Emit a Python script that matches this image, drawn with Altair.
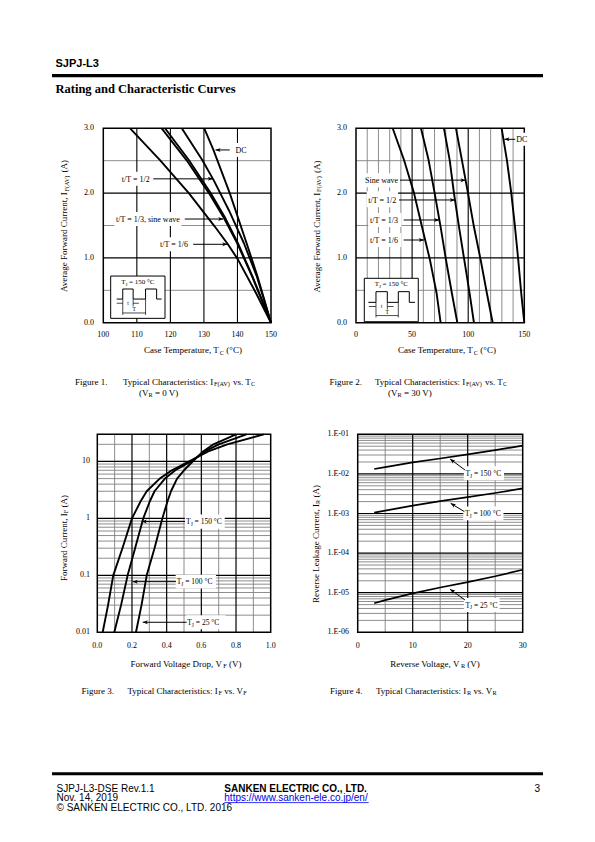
import altair as alt
import pandas as pd

SERIF = "Liberation Serif"
SANS = "Liberation Sans"
M = 8  # page margin of the html page

# ---------------- Figure 1 : I_F(AV) vs T_C  (V_R = 0 V) ----------------
f1_tc_16 = [108.0, 116.9, 125.5, 133.3, 137.3, 140.2, 145.6, 150.0]
f1_if_16 = [3.00, 2.51, 2.00, 1.48, 1.20, 0.97, 0.45, 0.00]
f1_tc_13 = [117.4, 124.8, 131.5, 135.7, 139.9, 144.4, 150.0]
f1_if_13 = [3.00, 2.51, 2.00, 1.64, 1.23, 0.71, 0.00]
f1_tc_sine = [118.4, 125.5, 132.0, 136.1, 140.1, 144.5, 150.0]
f1_if_sine = [3.00, 2.51, 2.00, 1.64, 1.23, 0.71, 0.00]
f1_tc_12 = [123.4, 129.5, 132.9, 137.4, 141.9, 145.8, 150.0]
f1_if_12 = [3.00, 2.51, 2.20, 1.74, 1.23, 0.71, 0.00]
f1_tc_dc = [130.1, 132.8, 137.7, 142.7, 146.0, 150.0]
f1_if_dc = [3.00, 2.67, 2.00, 1.23, 0.71, 0.00]

# ---------------- Figure 2 : I_F(AV) vs T_C  (V_R = 30 V) ----------------
f2_if = [3.00, 2.51, 2.00, 1.48, 0.97, 0.45, 0.00]
f2_tc_16 = [32.7, 42.8, 51.7, 58.8, 65.9, 71.9, 75.4]
f2_tc_13 = [57.9, 64.7, 70.1, 75.4, 80.2, 85.5, 90.3]
f2_tc_12 = [78.4, 83.5, 87.3, 91.8, 96.5, 101.3, 105.1]
f2_tc_sine = [89.1, 94.4, 99.8, 105.1, 111.1, 116.7, 121.8]
f2_tc_dc = [129.8, 134.5, 138.4, 141.7, 144.6, 147.3, 150.0]

# ---------------- Figure 3 : I_F vs V_F ----------------
f3_if = [0.01, 0.03, 0.1, 0.3, 1, 2, 3, 5, 7, 10, 15, 20, 30]
f3_vf_150 = [0.031, 0.062, 0.092, 0.145, 0.200, 0.250, 0.285, 0.360, 0.430, 0.530, 0.640, 0.750, 0.960]
f3_vf_100 = [0.098, 0.137, 0.175, 0.218, 0.265, 0.303, 0.330, 0.390, 0.450, 0.540, 0.620, 0.700, 0.860]
f3_vf_25 = [0.223, 0.255, 0.285, 0.330, 0.375, 0.405, 0.425, 0.460, 0.500, 0.550, 0.610, 0.670, 0.800]

# ---------------- Figure 4 : I_R vs V_R ----------------
f4_vr = [3, 5, 10, 15, 20, 25, 30]
f4_ir_150 = [0.0133, 0.0148, 0.0195, 0.0245, 0.031, 0.040, 0.0515]
f4_ir_100 = [0.00105, 0.00118, 0.00158, 0.00205, 0.0026, 0.0033, 0.0043]
f4_ir_25 = [5.4e-6, 6.5e-6, 9.6e-6, 1.35e-5, 1.85e-5, 2.6e-5, 3.8e-5]

# ---------------- tick labels ----------------
f1_xticks = [100, 110, 120, 130, 140, 150]
f1_xlabels = ["100", "110", "120", "130", "140", "150"]
f12_yticks = [0, 1, 2, 3]
f12_ylabels = ["0.0", "1.0", "2.0", "3.0"]
f2_xticks = [0, 50, 100, 150]
f2_xlabels = ["0", "50", "100", "150"]
f3_xticks = [0, 0.2, 0.4, 0.6, 0.8, 1.0]
f3_xlabels = ["0.0", "0.2", "0.4", "0.6", "0.8", "1.0"]
f3_yticks = [0.01, 0.1, 1, 10]
f3_ylabels = ["0.01", "0.1", "1", "10"]
f4_xticks = [0, 10, 20, 30]
f4_xlabels = ["0", "10", "20", "30"]
f4_yticks = [1e-6, 1e-5, 1e-4, 1e-3, 1e-2, 1e-1]
f4_ylabels = ["1.E-06", "1.E-05", "1.E-04", "1.E-03", "1.E-02", "1.E-01"]

# ---------------- grid lines ----------------
f1_gx_major = [110, 120, 130, 140]
f12_gy_major = [1, 2]
f12_gy_minor = [0.5, 1.5, 2.5]
f2_gx_major = [50, 100]
f2_gx_minor = [10, 20, 30, 40, 60, 70, 80, 90, 110, 120, 130, 140]
f3_gx_major = [0.2, 0.4, 0.6, 0.8]
f3_gx_minor = [0.1, 0.3, 0.5, 0.7, 0.9]
f3_gy_major = [0.1, 1, 10]
f3_gy_minor = [k * d for d in (0.01, 0.1, 1) for k in range(2, 10)] + [20]
f4_gx_major = [10, 20]
f4_gx_minor = [5, 15, 25]
f4_gy_major = [1e-5, 1e-4, 1e-3, 1e-2]
f4_gy_minor = [k * d for d in (1e-6, 1e-5, 1e-4, 1e-3, 1e-2) for k in range(2, 10)]

# ---------------- Times metrics (per 1000 em) for composed texts ----------------
TW = {' ': 250, '!': 333, '(': 333, ')': 333, ',': 250, '-': 333, '.': 250, '/': 278,
      ':': 278, '=': 564, '°': 400}
for c in "0123456789":
    TW[c] = 500
TW.update(dict(zip("ABCDEFGHIJKLMNOPQRSTUVWXYZ",
                   [722, 667, 667, 722, 611, 556, 722, 722, 333, 389, 722, 611, 889, 722, 722,
                    556, 722, 667, 556, 611, 722, 722, 944, 722, 722, 611])))
TW.update(dict(zip("abcdefghijklmnopqrstuvwxyz",
                   [444, 500, 444, 500, 444, 333, 500, 500, 278, 278, 500, 278, 778, 500, 500,
                    500, 500, 333, 389, 278, 500, 500, 722, 500, 500, 444])))


def tw(s, size):
    return sum(TW.get(c, 500) for c in s) * size / 1000.0


def compose(base, enc, parts, size, align="left", font=SERIF, weight="normal",
            color="black", angle=0, dy0=0.0, sub=0.7):
    out = []
    if len(parts) == 1 and not parts[0][1]:
        kw = dict(text=parts[0][0], align=align, baseline="alphabetic", font=font,
                  fontSize=size, fontWeight=weight, color=color, dy=round(dy0, 2))
        if angle:
            kw["angle"] = angle
        return [base.mark_text(**kw).encode(**enc)]
    sizes = [size * sub if s else size for _, s in parts]
    widths = [tw(t, fs) for (t, _), fs in zip(parts, sizes)]
    total = sum(widths)
    off = {"left": 0.0, "center": -total / 2.0, "right": -total}[align]
    for (t, s), fs, w in zip(parts, sizes, widths):
        lead = len(t) - len(t.lstrip(" "))
        kw = dict(text=t.strip(" "), align="left", baseline="alphabetic", font=font,
                  fontSize=round(fs, 2), fontWeight=weight, color=color,
                  dx=round(off + tw(" " * lead, fs), 2),
                  dy=round(dy0 + (size * 0.22 if s else 0.0), 2))
        if angle:
            kw["angle"] = angle
        out.append(base.mark_text(**kw).encode(**enc))
        off += w
    return out


ONE = pd.DataFrame({"a": [0]})


def ptext(px, py, parts, size, align="left", **kw):
    enc = {"x": alt.value(round(px - M, 2)), "y": alt.value(round(py - M, 2))}
    return compose(alt.Chart(ONE), enc, parts, size, align=align, **kw)


def prule(x1, x2, y, width, color="black"):
    return alt.Chart(ONE).mark_rule(color=color, strokeWidth=width).encode(
        x=alt.value(x1 - M), x2=alt.value(x2 - M), y=alt.value(y - M))


# ---------------- panels (scale ranges in page pixels minus margin) ----------------
def mkscale(dom, rng, log=False):
    if log:
        return alt.Scale(type="log", domain=dom, range=rng, nice=False)
    return alt.Scale(type="linear", domain=dom, range=rng, nice=False, zero=False)


P1 = dict(xdom=[100, 150], ydom=[0, 3], xr=[95.3, 263.0], yr=[314.7, 120.3], ylog=False)
P2 = dict(xdom=[0, 150], ydom=[0, 3], xr=[348.0, 516.3], yr=[314.7, 120.3], ylog=False)
P3 = dict(xdom=[0, 1], ydom=[0.01, 30], xr=[89.3, 262.7], yr=[624.3, 426.3], ylog=True)
P4 = dict(xdom=[0, 30], ydom=[1e-6, 1e-1], xr=[349.7, 514.7], yr=[624.3, 426.3], ylog=True)
for P in (P1, P2, P3, P4):
    P["xs"] = mkscale(P["xdom"], P["xr"])
    P["ys"] = mkscale(P["ydom"], P["yr"], P["ylog"])


def X(P, f="x"):
    return alt.X(f + ":Q", scale=P["xs"], axis=None)


def Y(P, f="y"):
    return alt.Y(f + ":Q", scale=P["ys"], axis=None)


def grid(P, vx, vy, color, width):
    out = []
    if vx:
        df = pd.DataFrame({"x": vx, "y": [P["ydom"][0]] * len(vx), "y2": [P["ydom"][1]] * len(vx)})
        out.append(alt.Chart(df).mark_rule(color=color, strokeWidth=width).encode(
            x=X(P), y=Y(P), y2="y2:Q"))
    if vy:
        df = pd.DataFrame({"y": vy, "x": [P["xdom"][0]] * len(vy), "x2": [P["xdom"][1]] * len(vy)})
        out.append(alt.Chart(df).mark_rule(color=color, strokeWidth=width).encode(
            y=Y(P), x=X(P), x2="x2:Q"))
    return out


def frame(P):
    df = pd.DataFrame({"x": [P["xdom"][0]], "x2": [P["xdom"][1]],
                       "y": [P["ydom"][0]], "y2": [P["ydom"][1]]})
    return alt.Chart(df).mark_rect(fillOpacity=0, stroke="black", strokeWidth=1.5).encode(
        x=X(P), x2="x2:Q", y=Y(P), y2="y2:Q")


def curves(P, series, width=1.9):
    rows = []
    for name, xs, ys in series:
        for i, (a, b) in enumerate(zip(xs, ys)):
            rows.append({"s": name, "i": i, "x": a, "y": b})
    return alt.Chart(pd.DataFrame(rows)).mark_line(
        color="black", strokeWidth=width, strokeJoin="round").encode(
        x=X(P), y=Y(P), detail="s:N", order="i:Q")


def boxes(P, x1, x2, y1, y2):
    df = pd.DataFrame({"x": x1, "x2": x2, "y": y1, "y2": y2})
    return alt.Chart(df).mark_rect(color="white").encode(x=X(P), x2="x2:Q", y=Y(P), y2="y2:Q")


ARROW = "M0,0L-2.2,-0.85L-1.6,0L-2.2,0.85Z"


def arrows(P, tx, ty, hx, hy, ang, size=22, width=1.0):
    df = pd.DataFrame({"x": tx, "y": ty, "x2": hx, "y2": hy, "a": ang})
    shaft = alt.Chart(df).mark_rule(color="black", strokeWidth=width).encode(
        x=X(P), y=Y(P), x2="x2:Q", y2="y2:Q")
    head = alt.Chart(df).mark_point(shape=ARROW, filled=True, color="black", size=size,
                                    opacity=1).encode(
        x=X(P, "x2"), y=Y(P, "y2"), angle=alt.Angle("a:Q", scale=None))
    return [shaft, head]


def dlabel(P, x, y, parts, size=8, align="left"):
    base = alt.Chart(pd.DataFrame({"x": [x], "y": [y]}))
    return compose(base, {"x": X(P), "y": Y(P)}, parts, size, align=align, dy0=size * 0.35)


def segs(P, x1, y1, x2, y2, width=0.8):
    df = pd.DataFrame({"x": x1, "y": y1, "x2": x2, "y2": y2})
    return alt.Chart(df).mark_rule(color="black", strokeWidth=width).encode(
        x=X(P), y=Y(P), x2="x2:Q", y2="y2:Q")


def xticks(P, vals, texts, py):
    df = pd.DataFrame({"x": vals, "t": texts})
    return alt.Chart(df).mark_text(font=SERIF, fontSize=8, align="center", baseline="alphabetic",
                                   color="black").encode(x=X(P), y=alt.value(py - M), text="t:N")


def yticks(P, vals, texts, px):
    df = pd.DataFrame({"y": vals, "t": texts})
    return alt.Chart(df).mark_text(font=SERIF, fontSize=8, align="right", baseline="middle",
                                   color="black").encode(y=Y(P), x=alt.value(px - M), text="t:N")


def inset(P, bx, by, tpos, wx, wy, d, tl, Tl):
    out = []
    df = pd.DataFrame({"x": [bx[0]], "x2": [bx[1]], "y": [by[0]], "y2": [by[1]]})
    out.append(alt.Chart(df).mark_rect(fill="white", stroke="black", strokeWidth=1).encode(
        x=X(P), x2="x2:Q", y=Y(P), y2="y2:Q"))
    out += dlabel(P, tpos[0], tpos[1], [("T", 0), ("J", 1), (" = 150 °C", 0)], size=7, align="center")
    wdf = pd.DataFrame({"x": wx, "y": wy, "i": list(range(len(wx)))})
    out.append(alt.Chart(wdf).mark_line(color="black", strokeWidth=1).encode(
        x=X(P), y=Y(P), order="i:Q"))
    out.append(segs(P, d[0], d[1], d[2], d[3], width=0.7))
    out += dlabel(P, tl[0], tl[1], [("t", 0)], size=5.5, align="center")
    out += dlabel(P, Tl[0], Tl[1], [("T", 0)], size=5.5, align="center")
    return out


GREY = "#808080"
layers = []

# ---------------- Figure 1 ----------------
P = P1
layers += grid(P, [], f12_gy_minor, GREY, 0.9)
layers += grid(P, f1_gx_major, f12_gy_major, "black", 1.1)
layers.append(frame(P))
layers.append(boxes(P, [104.8, 103.3, 116.2, 139.0], [114.6, 123.3, 126.0, 143.4],
                    [2.112, 1.492, 1.102, 2.558], [2.328, 1.708, 1.318, 2.774]))
layers.append(curves(P, [("1/6", f1_tc_16, f1_if_16), ("1/3", f1_tc_13, f1_if_13),
                         ("sine", f1_tc_sine, f1_if_sine), ("1/2", f1_tc_12, f1_if_12),
                         ("DC", f1_tc_dc, f1_if_dc)]))
layers += arrows(P, [137.7, 114.9, 124.3, 126.8], [2.666, 2.22, 1.60, 1.21],
                 [133.45, 132.7, 135.8, 137.0], [2.666, 2.22, 1.60, 1.21], [180, 0, 0, 0])
layers += dlabel(P, 139.4, 2.666, [("DC", 0)])
layers += dlabel(P, 105.5, 2.22, [("t/T = 1/2", 0)])
layers += dlabel(P, 103.8, 1.60, [("t/T = 1/3, sine wave", 0)])
layers += dlabel(P, 116.9, 1.21, [("t/T = 1/6", 0)])
layers += inset(P, [102.2, 118.4], [0.067, 0.72], (110.3, 0.633),
                [104.0, 105.8, 105.8, 108.9, 108.9, 112.6, 112.6, 115.9, 115.9, 117.4],
                [0.365, 0.365, 0.52, 0.52, 0.365, 0.365, 0.52, 0.52, 0.365, 0.365],
                ([105.8, 108.9, 112.6, 104.0, 108.9, 105.8],
                 [0.365, 0.365, 0.365, 0.30, 0.30, 0.15],
                 [105.8, 108.9, 112.6, 105.8, 110.6, 112.6],
                 [0.12, 0.25, 0.12, 0.30, 0.30, 0.15]),
                (107.35, 0.30), (109.2, 0.21))
layers.append(xticks(P, f1_xticks, f1_xlabels, 337))
layers.append(yticks(P, f12_yticks, f12_ylabels, 94))

# ---------------- Figure 2 ----------------
P = P2
layers += grid(P, f2_gx_minor, f12_gy_minor, GREY, 0.9)
layers += grid(P, f2_gx_major, f12_gy_major, "black", 1.1)
layers.append(frame(P))
layers.append(boxes(P, [6.5, 9.5, 11.0, 11.0, 141.9], [39.0, 37.5, 40.5, 40.5, 158.5],
                    [2.092, 1.78, 1.477, 1.168, 2.73], [2.308, 2.03, 1.693, 1.384, 2.93]))
layers.append(curves(P, [("1/6", f2_tc_16, f2_if), ("1/3", f2_tc_13, f2_if),
                         ("1/2", f2_tc_12, f2_if), ("sine", f2_tc_sine, f2_if),
                         ("DC", f2_tc_dc, f2_if)]))
layers += arrows(P, [141.9, 39.2, 38.3, 42.5, 42.5], [2.83, 2.2, 1.894, 1.585, 1.276],
                 [132.2, 97.7, 88.2, 74.2, 60.6], [2.83, 2.2, 1.894, 1.585, 1.276],
                 [180, 0, 0, 0, 0])
layers += dlabel(P, 142.8, 2.83, [("DC", 0)])
layers += dlabel(P, 8.0, 2.2, [("Sine wave", 0)])
layers += dlabel(P, 11.0, 1.894, [("t/T = 1/2", 0)])
layers += dlabel(P, 12.5, 1.585, [("t/T = 1/3", 0)])
layers += dlabel(P, 12.5, 1.276, [("t/T = 1/6", 0)])
layers += inset(P, [7.4, 55.5], [0.015, 0.685], (31.5, 0.597),
                [11.0, 17.8, 17.8, 27.9, 27.9, 37.7, 37.7, 47.5, 47.5, 52.6],
                [0.314, 0.314, 0.479, 0.479, 0.314, 0.314, 0.479, 0.479, 0.314, 0.314],
                ([17.8, 27.9, 37.7, 11.5, 27.9, 17.8],
                 [0.314, 0.314, 0.314, 0.25, 0.25, 0.11],
                 [17.8, 27.9, 37.7, 17.8, 33.5, 37.7],
                 [0.08, 0.2, 0.08, 0.25, 0.25, 0.11]),
                (22.85, 0.25), (27.8, 0.165))
layers.append(xticks(P, f2_xticks, f2_xlabels, 337))
layers.append(yticks(P, f12_yticks, f12_ylabels, 347))

# ---------------- Figure 3 ----------------
P = P3
layers += grid(P, f3_gx_minor, f3_gy_minor, GREY, 0.9)
layers += grid(P, f3_gx_major, f3_gy_major, "black", 1.2)
layers.append(frame(P))
layers.append(boxes(P, [0.505, 0.452, 0.512], [0.735, 0.685, 0.74],
                    [0.66, 0.0585, 0.0113], [1.17, 0.1027, 0.0199]))
layers.append(curves(P, [("150", f3_vf_150, f3_if), ("100", f3_vf_100, f3_if),
                         ("25", f3_vf_25, f3_if)]))
layers += arrows(P, [0.506, 0.454, 0.515], [0.88, 0.0775, 0.015],
                 [0.256, 0.204, 0.262], [0.88, 0.0775, 0.015], [180, 180, 180])
layers += dlabel(P, 0.512, 0.88, [("T", 0), ("J", 1), (" = 150 °C", 0)], size=7.5)
layers += dlabel(P, 0.458, 0.0775, [("T", 0), ("J", 1), (" = 100 °C", 0)], size=7.5)
layers += dlabel(P, 0.519, 0.015, [("T", 0), ("J", 1), (" = 25 °C", 0)], size=7.5)
layers.append(xticks(P, f3_xticks, f3_xlabels, 647.5))
layers.append(yticks(P, f3_yticks, f3_ylabels, 90))

# ---------------- Figure 4 ----------------
P = P4
layers += grid(P, f4_gx_minor, f4_gy_minor, GREY, 0.9)
layers += grid(P, f4_gx_major, f4_gy_major, "black", 1.2)
layers.append(frame(P))
layers.append(boxes(P, [19.3, 19.2, 19.3], [26.6, 26.5, 25.8],
                    [0.00689, 0.000672, 3.26e-6], [0.01556, 0.00151, 7.36e-6]))
layers.append(curves(P, [("150", f4_vr, f4_ir_150), ("100", f4_vr, f4_ir_100),
                         ("25", f4_vr, f4_ir_25)], width=1.7))
layers += arrows(P, [19.5, 19.4, 19.5], [0.01256, 0.001114, 6.55e-6],
                 [16.8, 16.9, 16.8], [0.0238, 0.001811, 1.219e-5], [216, 211, 215])
layers += dlabel(P, 19.6, 0.01035, [("T", 0), ("J", 1), (" = 150 °C", 0)], size=7.5)
layers += dlabel(P, 19.5, 0.00101, [("T", 0), ("J", 1), (" = 100 °C", 0)], size=7.5)
layers += dlabel(P, 19.6, 4.9e-6, [("T", 0), ("J", 1), (" = 25 °C", 0)], size=7.5)
layers.append(xticks(P, f4_xticks, f4_xlabels, 647.5))
layers.append(yticks(P, f4_yticks, f4_ylabels, 349))

# ---------------- axis titles ----------------
layers += ptext(193, 353, [("Case Temperature, T", 0), ("C", 1), (" (°C)", 0)], 9, align="center")
layers += ptext(447, 353, [("Case Temperature, T", 0), ("C", 1), (" (°C)", 0)], 9, align="center")
layers += ptext(67, 226, [("Average Forward Current, I", 0), ("F(AV)", 1), (" (A)", 0)], 9,
                align="center", angle=270)
layers += ptext(319.5, 226.5, [("Average Forward Current, I", 0), ("F(AV)", 1), (" (A)", 0)], 9,
                align="center", angle=270)
layers += ptext(186, 666.5, [("Forward Voltage Drop, V", 0), ("F", 1), (" (V)", 0)], 9, align="center")
layers += ptext(435, 666.5, [("Reverse Voltage, V", 0), ("R", 1), (" (V)", 0)], 9, align="center")
layers += ptext(66.5, 538, [("Forward Current, I", 0), ("F", 1), (" (A)", 0)], 9,
                align="center", angle=270)
layers += ptext(318.5, 544, [("Reverse Leakage Current, I", 0), ("R", 1), (" (A)", 0)], 9,
                align="center", angle=270)

# ---------------- captions ----------------
layers += ptext(75, 384.5, [("Figure 1.", 0)], 9)
layers += ptext(123, 384.5, [("Typical Characteristics: I", 0), ("F(AV)", 1), (" vs. T", 0), ("C", 1)], 9)
layers += ptext(139, 395.5, [("(V", 0), ("R", 1), (" = 0 V)", 0)], 9)
layers += ptext(329.5, 384.5, [("Figure 2.", 0)], 9)
layers += ptext(375, 384.5, [("Typical Characteristics: I", 0), ("F(AV)", 1), (" vs. T", 0), ("C", 1)], 9)
layers += ptext(388, 395.5, [("(V", 0), ("R", 1), (" = 30 V)", 0)], 9)
layers += ptext(81.5, 693.5, [("Figure 3.", 0)], 9)
layers += ptext(127.5, 693.5, [("Typical Characteristics: I", 0), ("F", 1), (" vs. V", 0), ("F", 1)], 9)
layers += ptext(330, 693.5, [("Figure 4.", 0)], 9)
layers += ptext(376, 693.5, [("Typical Characteristics: I", 0), ("R", 1), (" vs. V", 0), ("R", 1)], 9)

# ---------------- page header / footer ----------------
layers += ptext(55.5, 66.5, [("SJPJ-L3", 0)], 11, font=SANS, weight="bold")
layers.append(prule(52, 543, 75.7, 3.3))
layers += ptext(55.5, 93, [("Rating and Characteristic Curves", 0)], 12.5, weight="bold")
layers.append(prule(52, 543, 773.8, 3.0))
layers += ptext(56.5, 791.7, [("SJPJ-L3-DSE Rev.1.1", 0)], 10, font=SANS)
layers += ptext(56.5, 801.3, [("Nov. 14, 2019", 0)], 10, font=SANS)
layers += ptext(56.5, 811, [("© SANKEN ELECTRIC CO., LTD. 2016", 0)], 10, font=SANS)
layers += ptext(224.3, 791.7, [("SANKEN ELECTRIC CO., LTD.", 0)], 10, font=SANS, weight="bold")
layers += ptext(224.3, 801.3, [("https://www.sanken-ele.co.jp/en/", 0)], 10, font=SANS, color="#0000EE")
layers.append(prule(224.3, 368.7, 802.6, 0.8, color="#0000EE"))
layers += ptext(540, 791.7, [("3", 0)], 10, font=SANS, align="right")

chart = alt.layer(*layers).resolve_scale(x="independent", y="independent").properties(
    width=575, height=815, padding=0, autosize=alt.AutoSizeParams(type="none")
).configure_view(strokeOpacity=0)

chart.save("out.html", embed_options={"renderer": "svg", "actions": False})
